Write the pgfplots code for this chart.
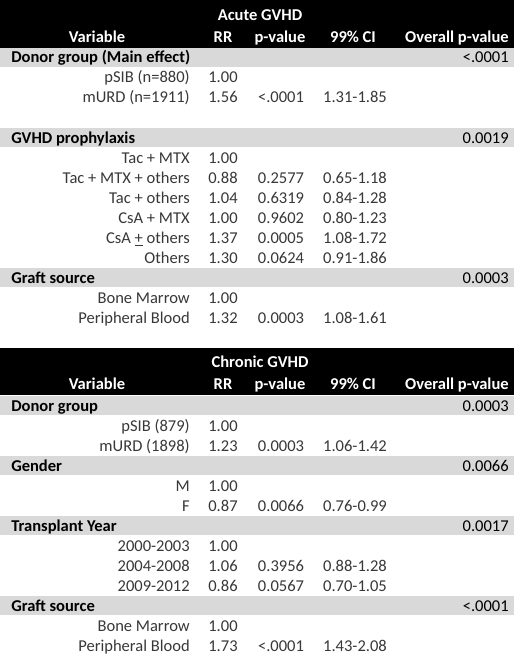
\documentclass[border=0pt]{standalone}
\usepackage{pgfplots}
\pgfplotsset{compat=1.18}
\usepackage{fontspec}
\setmainfont{Carlito}
\definecolor{band}{HTML}{D9D9D9}
\definecolor{txt}{HTML}{383838}

% one data row: baseline, label, RR, p-value, CI
\newcommand\datarow[5]{%
  \node[anchor=base east,txt] at (axis cs:190,#1) {#2};
  \node[anchor=base,txt] at (axis cs:223,#1) {#3};
  \node[anchor=base,txt] at (axis cs:281,#1) {#4};
  \node[anchor=base,txt] at (axis cs:355,#1) {#5};}
% grey group row: band centre, baseline, title, overall p
\newcommand\grouprow[4]{%
  \fill[band] (axis cs:0,#1-9.5) rectangle (axis cs:514,#1+9.5);
  \node[anchor=base west,font=\bfseries] at (axis cs:11,#2) {#3};
  \node[anchor=base east] at (axis cs:509,#2) {#4};}
% black header block: top, bottom, title baseline, header baseline, title
\newcommand\header[5]{%
  \fill[black] (axis cs:0,#1) rectangle (axis cs:514,#2);
  \node[anchor=base,white,font=\bfseries] at (axis cs:260,#3) {#5};
  \node[anchor=base,white,font=\bfseries] at (axis cs:97,#4) {Variable};
  \node[anchor=base,white,font=\bfseries] at (axis cs:223,#4) {RR};
  \node[anchor=base,white,font=\bfseries] at (axis cs:280,#4) {p-value};
  \node[anchor=base,white,font=\bfseries] at (axis cs:353,#4) {99\% CI};
  \node[anchor=base east,white,font=\bfseries] at (axis cs:509,#4) {Overall p-value};}

\begin{document}
\fontsize{12.4}{15}\selectfont
\begin{tikzpicture}[every node/.style={inner sep=0pt}]
\begin{axis}[
    scale only axis,
    width=390pt, height=492pt,
    xmin=0, xmax=520, ymin=0, ymax=656,
    y dir=reverse,
    hide axis,
    clip=false,
    ]
  \fill[white] (axis cs:0,0) rectangle (axis cs:520,656);

  % Acute GVHD
  \header{0}{48}{21}{43}{Acute GVHD}
  \grouprow{57.5}{63}{Donor group (Main effect)}{<.0001}
  \datarow{83}{pSIB (n=880)}{1.00}{}{}
  \datarow{103}{mURD (n=1911)}{1.56}{<.0001}{1.31-1.85}
  \grouprow{137.5}{143}{GVHD prophylaxis}{0.0019}
  \datarow{163}{Tac + MTX}{1.00}{}{}
  \datarow{183}{Tac + MTX + others}{0.88}{0.2577}{0.65-1.18}
  \datarow{203}{Tac + others}{1.04}{0.6319}{0.84-1.28}
  \datarow{223}{CsA + MTX}{1.00}{0.9602}{0.80-1.23}
  \datarow{243}{CsA \underline{+} others}{1.37}{0.0005}{1.08-1.72}
  \datarow{263}{Others}{1.30}{0.0624}{0.91-1.86}
  \grouprow{277.5}{283}{Graft source}{0.0003}
  \datarow{303}{Bone Marrow}{1.00}{}{}
  \datarow{323}{Peripheral Blood}{1.32}{0.0003}{1.08-1.61}

  % Chronic GVHD
  \header{348}{395}{367.5}{389.5}{Chronic GVHD}
  \grouprow{405.5}{411}{Donor group}{0.0003}
  \datarow{431}{pSIB (879)}{1.00}{}{}
  \datarow{451}{mURD (1898)}{1.23}{0.0003}{1.06-1.42}
  \grouprow{465.5}{471}{Gender}{0.0066}
  \datarow{491}{M}{1.00}{}{}
  \datarow{511}{F}{0.87}{0.0066}{0.76-0.99}
  \grouprow{525.5}{531}{Transplant Year}{0.0017}
  \datarow{551}{2000-2003}{1.00}{}{}
  \datarow{571}{2004-2008}{1.06}{0.3956}{0.88-1.28}
  \datarow{591}{2009-2012}{0.86}{0.0567}{0.70-1.05}
  \grouprow{605.5}{611}{Graft source}{<.0001}
  \datarow{631}{Bone Marrow}{1.00}{}{}
  \datarow{651}{Peripheral Blood}{1.73}{<.0001}{1.43-2.08}
\end{axis}
\end{tikzpicture}
\end{document}
